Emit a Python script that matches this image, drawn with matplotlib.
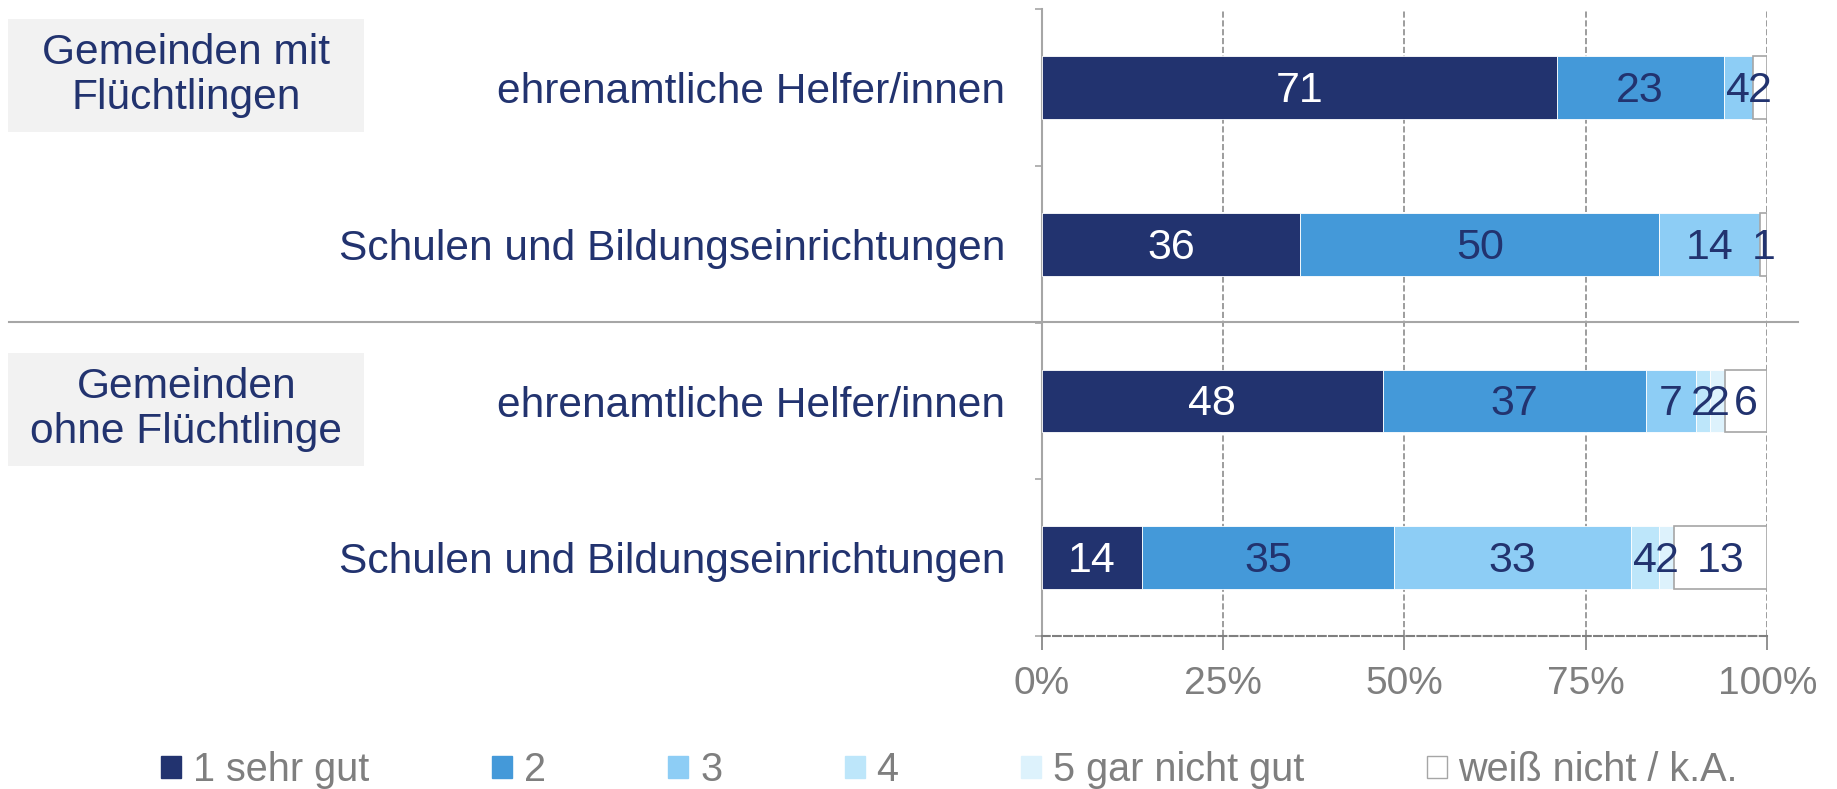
import numpy as np
import matplotlib.pyplot as plt
from matplotlib.patches import Rectangle, Patch
from matplotlib.lines import Line2D

plt.rcParams['font.family'] = ['Liberation Sans', 'DejaVu Sans']

# data
categories = ["ehrenamtliche Helfer/innen", "Schulen und Bildungseinrichtungen",
              "ehrenamtliche Helfer/innen", "Schulen und Bildungseinrichtungen"]
groups = ["Gemeinden mit\nFlüchtlingen", "Gemeinden\nohne Flüchtlinge"]
answers = ["1 sehr gut", "2", "3", "4", "5 gar nicht gut", "weiß nicht / k.A."]
sehr_gut = [71, 36, 48, 14]
note_2 = [23, 50, 37, 35]
note_3 = [4, 14, 7, 33]
note_4 = [0, 0, 2, 4]
gar_nicht = [0, 0, 2, 2]
weiss_nicht = [2, 1, 6, 13]
tick_labels = ["0%", "25%", "50%", "75%", "100%"]

NAVY = "#22336f"
colors = [NAVY, "#4499d9", "#8dcdf5", "#bde6fa", "#ddf2fc", "white"]
txt_colors = ["white", NAVY, NAVY, NAVY, NAVY, NAVY]
GREY = "#a6a6a6"

series = np.array([sehr_gut, note_2, note_3, note_4, gar_nicht, weiss_nicht], dtype=float)
totals = series.sum(axis=0)
shares = series / totals * 100

fig = plt.figure(figsize=(18.37, 7.89), dpi=100)
ax = fig.add_axes([0.567, 0.194, 0.395, 0.794])

y = np.arange(len(categories))
left = np.zeros(len(categories))
for i in range(len(answers)):
    edge = GREY if i == 5 else "white"
    ax.barh(y, shares[i], left=left, height=0.4, color=colors[i],
            edgecolor=edge, linewidth=1.2 if i == 5 else 0.6, zorder=3, label=answers[i])
    for j in range(len(categories)):
        if series[i, j] > 0:
            ax.text(left[j] + shares[i, j] / 2, y[j] + 0.02, "%d" % series[i, j],
                    ha="center", va="center", fontsize=31, color=txt_colors[i], zorder=4)
    left += shares[i]

ax.set_xlim(0, 100)
ax.set_ylim(len(categories) - 0.5, -0.5)
ax.set_xticks([0, 25, 50, 75, 100])
ax.set_xticklabels(tick_labels)
ax.set_yticks(y)
ax.set_yticklabels(categories)
ax.set_yticks(np.arange(len(categories) + 1) - 0.5, minor=True)

ax.tick_params(axis="y", which="major", length=0, pad=26, labelsize=30.6, labelcolor=NAVY)
ax.tick_params(axis="y", which="minor", length=5, width=1.2, color=GREY, direction="out")
ax.tick_params(axis="x", length=10, width=1.2, color="#7f7f7f", pad=12,
               labelsize=28, labelcolor="#7f7f7f")

ax.grid(axis="x", linestyle="--", color="#8c8c8c", linewidth=1.2, zorder=0)
for s in ["top", "right"]:
    ax.spines[s].set_visible(False)
ax.spines["left"].set_color(GREY)
ax.spines["left"].set_linewidth(1.5)
ax.spines["bottom"].set_color("#7f7f7f")
ax.spines["bottom"].set_linestyle("--")
ax.spines["bottom"].set_linewidth(1.5)

# separator between groups
fig.add_artist(Line2D([0.005, 0.979], [0.592, 0.592], color=GREY, linewidth=1.5))

# group boxes
for k, yb in enumerate([0.8327, 0.4094]):
    fig.add_artist(Rectangle((0.0044, yb), 0.194, 0.1432, facecolor="#f2f2f2",
                             edgecolor="none", transform=fig.transFigure))
    fig.text(0.0044 + 0.097, yb + 0.0716, groups[k], ha="center", va="center",
             fontsize=30.6, color=NAVY, linespacing=1.15)

handles = [Patch(facecolor=colors[i], edgecolor=GREY if i == 5 else colors[i])
           for i in range(len(answers))]
fig.legend(handles, answers, loc="center", bbox_to_anchor=(0.517, 0.024), ncol=6,
           frameon=False, fontsize=28.5, labelcolor="#7f7f7f", handlelength=0.5,
           handleheight=0.5, handletextpad=0.3, columnspacing=3.1)

fig.savefig("out.png", dpi=100)
